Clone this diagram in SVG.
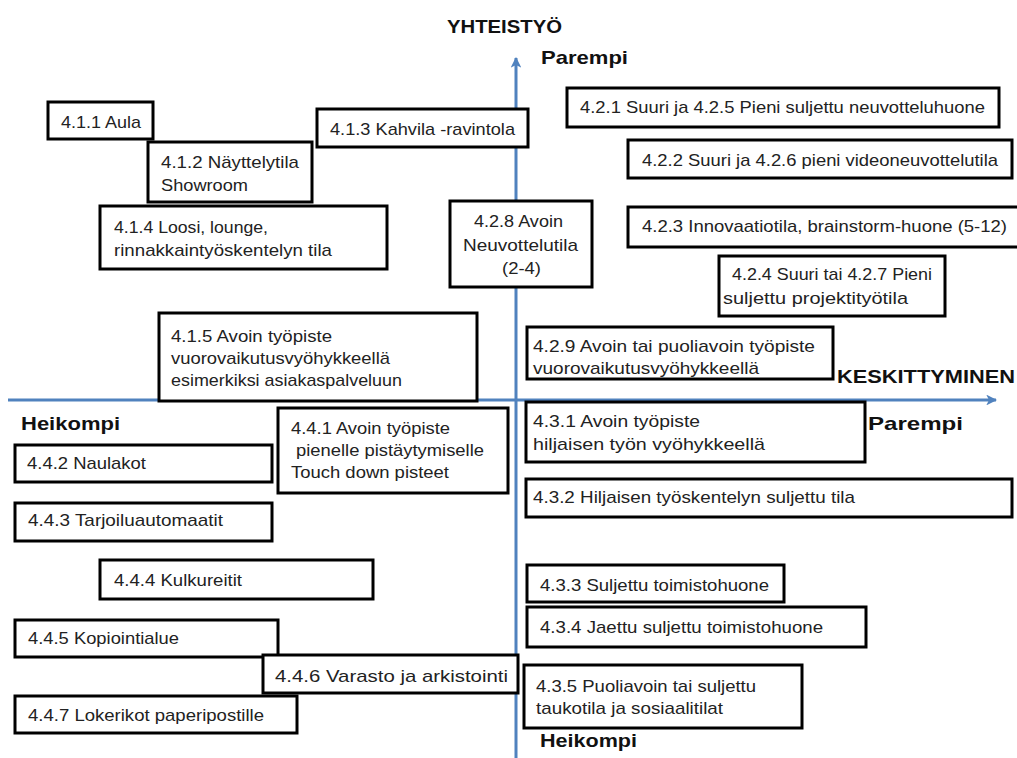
<svg xmlns="http://www.w3.org/2000/svg" width="1017" height="758" viewBox="0 0 1017 758">
<style>
.b{fill:#fff;stroke:#000;stroke-width:3}
.t{font-family:"Liberation Sans",Arial,sans-serif;font-size:17px;fill:#222}
.h{font-family:"Liberation Sans",Arial,sans-serif;font-size:19px;font-weight:bold;fill:#111}
.ax{stroke:#5082be;stroke-width:3;fill:none}
</style>
<defs>
<marker id="ar" viewBox="0 0 10 10" refX="9" refY="5" markerWidth="3.6" markerHeight="3.6" orient="auto" markerUnits="strokeWidth">
<path d="M0,0 L10,5 L0,10 L2.5,5 Z" fill="#5082be"/>
</marker>
</defs>
<rect width="1017" height="758" fill="#fff"/>
<g id="axes">
<line class="ax" x1="516" y1="758" x2="516" y2="58" marker-end="url(#ar)"/>
<line class="ax" x1="8" y1="400" x2="996" y2="400" marker-end="url(#ar)"/>
</g>
<g id="labels">
<text class="h" x="447" y="33" textLength="115" lengthAdjust="spacingAndGlyphs">YHTEISTYÖ</text>
<text class="h" x="541" y="64" textLength="87" lengthAdjust="spacingAndGlyphs">Parempi</text>
<text class="h" x="837" y="383" textLength="178" lengthAdjust="spacingAndGlyphs">KESKITTYMINEN</text>
<text class="h" x="868" y="430" textLength="95" lengthAdjust="spacingAndGlyphs">Parempi</text>
<text class="h" x="21" y="430" textLength="99" lengthAdjust="spacingAndGlyphs">Heikompi</text>
<text class="h" x="540" y="747" textLength="97" lengthAdjust="spacingAndGlyphs">Heikompi</text>
</g>
<g id="n411"><rect class="b" x="48" y="102" width="105" height="37"/><text class="t" x="61" y="128" textLength="80" lengthAdjust="spacingAndGlyphs">4.1.1 Aula</text></g>
<g id="n412"><rect class="b" x="148" y="142" width="164" height="60"/><text class="t" x="161" y="168" textLength="138" lengthAdjust="spacingAndGlyphs">4.1.2 Näyttelytila</text><text class="t" x="161" y="191" textLength="87" lengthAdjust="spacingAndGlyphs">Showroom</text></g>
<g id="n413"><rect class="b" x="317" y="109" width="211" height="38"/><text class="t" x="330" y="135" textLength="185" lengthAdjust="spacingAndGlyphs">4.1.3 Kahvila -ravintola</text></g>
<g id="n414"><rect class="b" x="100" y="206" width="287" height="63"/><text class="t" x="114" y="233" textLength="154" lengthAdjust="spacingAndGlyphs">4.1.4 Loosi, lounge,</text><text class="t" x="114" y="256" textLength="218" lengthAdjust="spacingAndGlyphs">rinnakkaintyöskentelyn tila</text></g>
<g id="n428"><rect class="b" x="450" y="201" width="142" height="86"/><text class="t" x="474" y="227" textLength="89" lengthAdjust="spacingAndGlyphs">4.2.8 Avoin</text><text class="t" x="463" y="251" textLength="115" lengthAdjust="spacingAndGlyphs">Neuvottelutila</text><text class="t" x="502" y="274" textLength="39" lengthAdjust="spacingAndGlyphs">(2-4)</text></g>
<g id="n421"><rect class="b" x="567" y="88" width="432" height="39"/><text class="t" x="580" y="113" textLength="405" lengthAdjust="spacingAndGlyphs">4.2.1 Suuri ja 4.2.5 Pieni suljettu neuvotteluhuone</text></g>
<g id="n422"><rect class="b" x="628" y="140" width="384" height="38"/><text class="t" x="642" y="166" textLength="356" lengthAdjust="spacingAndGlyphs">4.2.2 Suuri ja 4.2.6 pieni videoneuvottelutila</text></g>
<g id="n423"><rect class="b" x="628" y="207" width="392" height="40"/><text class="t" x="642" y="232" textLength="365" lengthAdjust="spacingAndGlyphs">4.2.3 Innovaatiotila, brainstorm-huone (5-12)</text></g>
<g id="n424"><rect class="b" x="719" y="256" width="226" height="60"/><text class="t" x="732" y="280" textLength="200" lengthAdjust="spacingAndGlyphs">4.2.4 Suuri tai 4.2.7 Pieni</text><text class="t" x="723" y="304" textLength="185" lengthAdjust="spacingAndGlyphs">suljettu projektityötila</text></g>
<g id="n415"><rect class="b" x="159" y="313" width="318" height="88"/><text class="t" x="171" y="342" textLength="161" lengthAdjust="spacingAndGlyphs">4.1.5 Avoin työpiste</text><text class="t" x="171" y="364" textLength="219" lengthAdjust="spacingAndGlyphs">vuorovaikutusvyöhykkeellä</text><text class="t" x="171" y="386" textLength="231" lengthAdjust="spacingAndGlyphs">esimerkiksi asiakaspalveluun</text></g>
<g id="n429"><rect class="b" x="527" y="327" width="306" height="52"/><text class="t" x="533" y="352" textLength="282" lengthAdjust="spacingAndGlyphs">4.2.9 Avoin tai puoliavoin työpiste</text><text class="t" x="533" y="374" textLength="226" lengthAdjust="spacingAndGlyphs">vuorovaikutusvyöhykkeellä</text></g>
<g id="n431"><rect class="b" x="526" y="402" width="339" height="60"/><text class="t" x="533" y="427" textLength="167" lengthAdjust="spacingAndGlyphs">4.3.1 Avoin työpiste</text><text class="t" x="533" y="450" textLength="232" lengthAdjust="spacingAndGlyphs">hiljaisen työn vyöhykkeellä</text></g>
<g id="n432"><rect class="b" x="526" y="479" width="486" height="38"/><text class="t" x="533" y="503" textLength="322" lengthAdjust="spacingAndGlyphs">4.3.2 Hiljaisen työskentelyn suljettu tila</text></g>
<g id="n433"><rect class="b" x="527" y="565" width="257" height="37"/><text class="t" x="540" y="591" textLength="229" lengthAdjust="spacingAndGlyphs">4.3.3 Suljettu toimistohuone</text></g>
<g id="n434"><rect class="b" x="527" y="607" width="339" height="40"/><text class="t" x="540" y="633" textLength="283" lengthAdjust="spacingAndGlyphs">4.3.4 Jaettu suljettu toimistohuone</text></g>
<g id="n435"><rect class="b" x="524" y="665" width="278" height="63"/><text class="t" x="536" y="692" textLength="220" lengthAdjust="spacingAndGlyphs">4.3.5 Puoliavoin tai suljettu</text><text class="t" x="536" y="714" textLength="187" lengthAdjust="spacingAndGlyphs">taukotila ja sosiaalitilat</text></g>
<g id="n441"><rect class="b" x="278" y="408" width="230" height="85"/><text class="t" x="291" y="434" textLength="159" lengthAdjust="spacingAndGlyphs">4.4.1 Avoin työpiste</text><text class="t" x="296" y="456" textLength="188" lengthAdjust="spacingAndGlyphs">pienelle pistäytymiselle</text><text class="t" x="291" y="478" textLength="158" lengthAdjust="spacingAndGlyphs">Touch down pisteet</text></g>
<g id="n442"><rect class="b" x="15" y="445" width="257" height="37"/><text class="t" x="27" y="469" textLength="119" lengthAdjust="spacingAndGlyphs">4.4.2 Naulakot</text></g>
<g id="n443"><rect class="b" x="15" y="503" width="257" height="38"/><text class="t" x="28" y="526" textLength="195" lengthAdjust="spacingAndGlyphs">4.4.3 Tarjoiluautomaatit</text></g>
<g id="n444"><rect class="b" x="100" y="560" width="273" height="39"/><text class="t" x="114" y="586" textLength="128" lengthAdjust="spacingAndGlyphs">4.4.4 Kulkureitit</text></g>
<g id="n445"><rect class="b" x="15" y="620" width="263" height="37"/><text class="t" x="28" y="644" textLength="151" lengthAdjust="spacingAndGlyphs">4.4.5 Kopiointialue</text></g>
<g id="n446"><rect class="b" x="263" y="655" width="255" height="38"/><text class="t" x="275" y="682" textLength="233" lengthAdjust="spacingAndGlyphs">4.4.6 Varasto ja arkistointi</text></g>
<g id="n447"><rect class="b" x="15" y="696" width="282" height="37"/><text class="t" x="28" y="721" textLength="236" lengthAdjust="spacingAndGlyphs">4.4.7 Lokerikot paperipostille</text></g>
</svg>
